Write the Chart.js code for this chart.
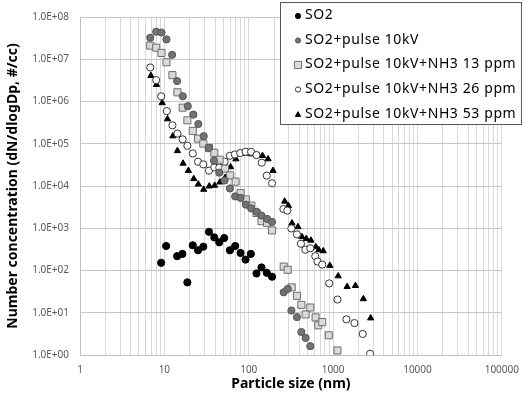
<!DOCTYPE html>
<html>
<head>
<meta charset="utf-8">
<script src="https://cdn.jsdelivr.net/npm/chart.js@4/dist/chart.umd.min.js"></script>
<style>
  html, body { margin: 0; padding: 0; background: #ffffff; }
  #wrap { width: 528px; height: 402px; }
</style>
</head>
<body>
<div id="wrap"><canvas id="c" width="528" height="402"></canvas></div>
<script>
// ---- Data ----
const seriesNames = [
  "SO2",
  "SO2+pulse 10kV",
  "SO2+pulse 10kV+NH3 13 ppm",
  "SO2+pulse 10kV+NH3 26 ppm",
  "SO2+pulse 10kV+NH3 53 ppm"
];

const so2X = [9.17, 10.5, 14.16, 16.36, 18.74, 21.7, 25.06, 28.94, 33.8, 39.04, 44.73, 51.23, 59.82, 69.11, 80.0, 91.7, 105.9, 123.6, 141.6, 163.6, 189.0];
const so2Y = [152, 380, 218, 247, 52.3, 395, 301, 366, 823, 608, 464, 586, 301, 380, 260, 181, 247, 85.1, 118, 88.3, 71.1];

const pulseX = [6.80, 8.00, 9.24, 10.59, 12.36, 14.16, 16.54, 18.94, 22.06, 25.27, 29.27, 33.80, 38.72, 44.73, 51.79, 59.82, 69.11, 80.0, 92.4, 106.7, 123.6, 141.6, 165.0, 189.0, 259.7, 289.4, 320.2, 372.8, 420.2, 472.3, 536.6];
const pulseY = [3.23e7, 4.47e7, 4.30e7, 2.95e7, 1.27e7, 3.05e6, 1.33e6, 7.76e5, 4.90e5, 2.93e5, 1.51e5, 8.01e4, 3.97e4, 2.07e4, 1.35e4, 8.74e3, 5.67e3, 5.23e3, 3.62e3, 2.96e3, 2.45e3, 2.0e3, 1.66e3, 1.41e3, 30.5, 36.6, 11.3, 7.88, 3.50, 2.53, 1.62];

const nh13X = [6.80, 8.00, 9.24, 10.59, 12.46, 14.28, 16.45, 18.74, 21.70, 25.06, 28.94, 33.80, 39.04, 45.22, 52.21, 60.31, 69.86, 80.0, 92.4, 107.3, 123.6, 141.6, 165.0, 189.0, 259.7, 289.4, 322.8, 372.8, 420.2, 472.3, 536.6, 619.7, 666.9, 743.6, 889.7, 1127];
const nh13Y = [2.10e7, 1.88e7, 1.41e7, 8.51e6, 4.21e6, 1.65e6, 7.15e5, 3.58e5, 2.01e5, 1.32e5, 1.01e5, 7.88e4, 6.11e4, 4.19e4, 2.57e4, 1.79e4, 1.27e4, 6.78e3, 4.82e3, 3.43e3, 2.30e3, 1.47e3, 1.34e3, 888, 124, 104, 39.9, 25.1, 15.4, 9.12, 13.3, 7.76, 5.03, 6.02, 2.93, 1.28];

const nh26X = [6.80, 8.00, 9.17, 10.70, 12.46, 14.28, 16.45, 18.74, 21.70, 25.06, 28.94, 33.80, 39.04, 44.73, 51.79, 59.82, 68.54, 79.14, 91.7, 106.7, 123.6, 142.8, 163.6, 189.0, 257.6, 287.1, 320.2, 372.8, 415.7, 468.5, 536.6, 614.7, 654.3, 743.6, 899.5, 1127, 1439, 1789, 2243, 2742];
const nh26Y = [6.38e6, 3.21e6, 1.33e6, 5.92e5, 2.73e5, 1.74e5, 1.27e5, 8.93e4, 5.89e4, 3.76e4, 3.25e4, 2.31e4, 2.76e4, 2.72e4, 3.76e4, 5.20e4, 5.58e4, 6.02e4, 6.45e4, 6.45e4, 5.40e4, 3.56e4, 1.76e4, 1.16e4, 2.85e3, 2.62e3, 989, 715, 430, 311, 336, 218, 163, 138, 49.5, 20.5, 6.96, 5.70, 3.15, 1.07];

const nh53X = [6.93, 8.07, 9.42, 10.88, 12.60, 14.28, 16.67, 19.25, 22.30, 25.27, 29.27, 34.08, 39.47, 45.59, 52.64, 60.97, 70.42, 81.3, 94.2, 108.8, 125.7, 145.6, 169.4, 194.1, 266.9, 295.1, 325.5, 383.1, 427.1, 481.4, 545.5, 624.7, 678, 764.1, 914, 1148, 1467, 1839, 2286, 2787];
const nh53Y = [4.08e6, 2.51e6, 9.27e5, 3.84e5, 1.52e5, 6.81e4, 3.43e4, 2.31e4, 1.48e4, 1.10e4, 8.28e3, 9.89e3, 1.03e4, 1.23e4, 1.58e4, 2.82e4, 4.35e4, 5.89e4, 5.89e4, 5.70e4, 5.40e4, 5.20e4, 4.35e4, 2.31e4, 4.33e3, 3.43e3, 1.32e3, 1.08e3, 628, 564, 517, 360, 306, 290, 131, 73.9, 41.4, 43.7, 21.3, 7.47];

const xTickValues = [1, 10, 100, 1000, 10000, 100000];
const yTickValues = [1, 10, 100, 1000, 10000, 100000, 1000000, 10000000, 100000000];

const xTitle = "Particle size (nm)";
const yTitle = "Number concentration (dN/dlogDp, #/cc)";

// ---- Build ----
function pts(xs, ys) { return xs.map((x, i) => ({ x: x, y: ys[i] })); }

const styles = [
  { pointStyle: 'circle',   radius: 3.6, bg: '#000000', border: '#000000', lr: 2.6 },
  { pointStyle: 'circle',   radius: 3.6, bg: '#737373', border: '#555555', lr: 2.6 },
  { pointStyle: 'rect',     radius: 5.0, bg: '#d9d9d9', border: '#6e6e6e', lr: 3.6 },
  { pointStyle: 'circle',   radius: 3.6, bg: '#ffffff', border: '#333333', lr: 2.6 },
  { pointStyle: 'triangle', radius: 3.6, bg: '#000000', border: '#000000', lr: 2.8 }
];
const allData = [[so2X, so2Y], [pulseX, pulseY], [nh13X, nh13Y], [nh26X, nh26Y], [nh53X, nh53Y]];

const datasets = allData.map((d, i) => ({
  label: seriesNames[i],
  data: pts(d[0], d[1]),
  showLine: false,
  pointStyle: styles[i].pointStyle,
  pointRadius: styles[i].radius,
  pointHoverRadius: styles[i].radius,
  pointBackgroundColor: styles[i].bg,
  pointBorderColor: styles[i].border,
  pointBorderWidth: 1
}));

const xMinor = [];
for (let p = 0; p < 5; p++) for (let m = 1; m < 10; m++) xMinor.push(m * Math.pow(10, p));
xMinor.push(100000);

const legendPlugin = {
  id: 'boxLegend',
  afterDatasetsDraw(chart) {
    const ctx = chart.ctx;
    ctx.save();
    const bx = 280.5, by = 2.5, bw = 241, bh = 122;
    ctx.fillStyle = '#ffffff';
    ctx.fillRect(bx, by, bw, bh);
    ctx.strokeStyle = '#595959';
    ctx.lineWidth = 1;
    ctx.strokeRect(bx, by, bw, bh);
    const rows = [15.5, 40, 64.5, 89, 114];
    ctx.font = '14px "Noto Sans", sans-serif';
    ctx.textBaseline = 'middle';
    ctx.textAlign = 'left';
    seriesNames.forEach((name, i) => {
      const s = styles[i];
      const x = 298, y = rows[i] + 0.5;
      ctx.fillStyle = s.bg; ctx.strokeStyle = s.border; ctx.lineWidth = 1;
      ctx.beginPath();
      if (s.pointStyle === 'circle') {
        ctx.arc(x, y, s.lr, 0, Math.PI * 2);
      } else if (s.pointStyle === 'rect') {
        ctx.rect(x - s.lr, y - s.lr, s.lr * 2, s.lr * 2);
      } else {
        ctx.moveTo(x, y - s.lr);
        ctx.lineTo(x + s.lr * 0.95, y + s.lr * 0.7);
        ctx.lineTo(x - s.lr * 0.95, y + s.lr * 0.7);
        ctx.closePath();
      }
      ctx.fill(); ctx.stroke();
      ctx.fillStyle = '#000000';
      try { ctx.letterSpacing = '0.6px'; } catch (e) {}
      ctx.fillText(name, 305, rows[i]);
    });
    ctx.restore();
  }
};

new Chart(document.getElementById('c'), {
  type: 'scatter',
  data: { datasets: datasets },
  plugins: [legendPlugin],
  options: {
    responsive: false,
    animation: false,
    events: [],
    layout: { padding: { top: 14, right: 25, left: 0, bottom: 0 } },
    plugins: { legend: { display: false }, tooltip: { enabled: false } },
    scales: {
      x: {
        type: 'logarithmic',
        min: 1, max: 100000,
        afterBuildTicks: (scale) => { scale.ticks = xMinor.map(v => ({ value: v })); },
        afterFit: (scale) => { scale.height = 47; },
        ticks: {
          autoSkip: false, maxRotation: 0, minRotation: 0, padding: 9,
          color: '#595959', font: { family: '"Noto Sans", sans-serif', size: 10 },
          callback: (v) => xTickValues.includes(v) ? String(v) : ''
        },
        grid: { color: '#d9d9d9', drawTicks: false, lineWidth: 1 },
        border: { display: true, color: '#bfbfbf' },
        title: {
          display: true, text: xTitle, color: '#000000',
          font: { family: '"Noto Sans", sans-serif', size: 14, weight: 'bold' },
          padding: { top: 0, bottom: 10 }
        }
      },
      y: {
        type: 'logarithmic',
        min: 1, max: 100000000,
        afterBuildTicks: (scale) => { scale.ticks = yTickValues.map(v => ({ value: v })); },
        afterFit: (scale) => { scale.width = 80; },
        ticks: {
          autoSkip: false, padding: 11,
          color: '#595959', font: { family: '"Noto Sans", sans-serif', size: 10 },
          callback: (v) => '1.0E+' + String(Math.round(Math.log10(v))).padStart(2, '0')
        },
        grid: { color: '#c6c6c6', drawTicks: false, lineWidth: 1 },
        border: { display: true, color: '#bfbfbf' },
        title: {
          display: true, text: yTitle, color: '#000000',
          font: { family: '"Noto Sans", sans-serif', size: 14, weight: 'bold' },
          padding: { top: 5, bottom: 4 }
        }
      }
    }
  }
});
</script>
</body>
</html>
